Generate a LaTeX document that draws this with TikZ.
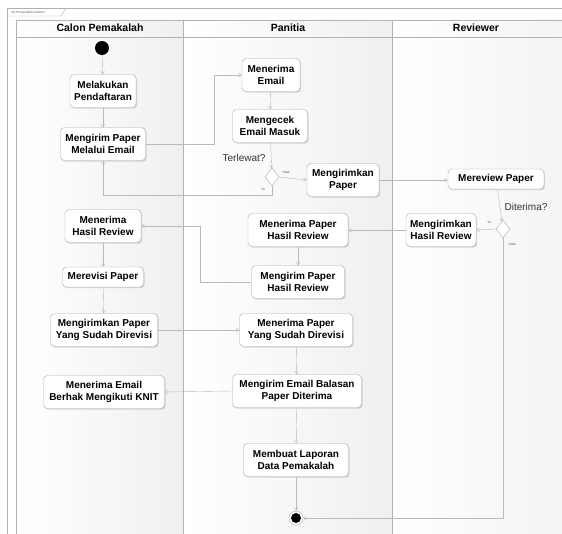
\documentclass[tikz,border=0pt]{standalone}
\usepackage{fontspec}
\setmainfont{Liberation Sans}
\usetikzlibrary{shapes.geometric, arrows.meta, shadows}

\begin{document}
\begin{tikzpicture}[x=1pt, y=-1pt,
  font=\fontsize{10}{12}\selectfont\bfseries,
  act/.style={draw=gray!65, fill=white, rounded corners=4pt, align=center,
    inner xsep=3pt, inner ysep=2pt, minimum height=33pt,
    drop shadow={shadow xshift=1.2pt, shadow yshift=-1.2pt, opacity=0.3}},
  flow/.style={draw=gray!55, -{Straight Barb[length=3pt, width=4pt]}},
  choice/.style={diamond, draw=gray!65, fill=white, minimum width=14pt,
    minimum height=18pt, inner sep=0pt},
  guard/.style={font=\fontsize{10}{12}\selectfont, text=gray!40!black},
  tiny/.style={font=\fontsize{3}{3}\selectfont, text=gray!60!black},
  lane/.style={left color=white, right color=gray!12}]

  \useasboundingbox (0,0) rectangle (562,533);
  \clip (0,0) rectangle (562,533);

  % frame and lanes
  \fill[white] (0,0) rectangle (562,533);
  \draw[gray!60] (7,8) rectangle (580,560);
  \draw[gray!60] (7,16) -- (61,16) -- (66,8);
  \node[tiny, anchor=west] at (8,12) {act Proses Bisnis Sistem};
  \shade[lane] (16,20) rectangle (183,560);
  \shade[lane] (183,20) rectangle (392,560);
  \shade[lane] (392,20) rectangle (620,560);
  \draw[gray!60] (16,20) rectangle (183,560);
  \draw[gray!60] (183,20) rectangle (392,560);
  \draw[gray!60] (392,20) rectangle (620,560);
  \draw[gray!60] (16,37) -- (620,37);
  \node[font=\fontsize{10.5}{12}\selectfont\bfseries] (L1) at (100,28) {Calon Pemakalah};
  \node[font=\fontsize{10.5}{12}\selectfont\bfseries] (L2) at (288,28) {Panitia};
  \node[font=\fontsize{10.5}{12}\selectfont\bfseries] (L3) at (476,28) {Reviewer};

  % calon pemakalah
  \node[circle, fill=black, minimum size=14pt, inner sep=0pt] (S) at (102,48) {};
  \node[act, minimum width=66pt] (A) at (103,91) {Melakukan\\Pendaftaran};
  \node[act, minimum width=85pt] (B) at (103,144) {Mengirim Paper\\Melalui Email};
  \node[act, minimum width=76pt] (M) at (103,226) {Menerima\\Hasil Review};
  \node[act, minimum width=81pt, minimum height=20pt] (N) at (103,277) {Merevisi Paper};
  \node[act, minimum width=107pt] (O) at (104,330) {Mengirimkan Paper\\Yang Sudah Direvisi};
  \node[act, minimum width=121pt] (R) at (104,392) {Menerima Email\\Berhak Mengikuti KNIT};

  % panitia
  \node[act, minimum width=58pt] (C) at (271,75) {Menerima\\Email};
  \node[act, minimum width=75pt] (D) at (270,126) {Mengecek\\Email Masuk};
  \node[choice] (X) at (272,177) {};
  \node[guard, anchor=east] (T1) at (269,158) {Terlewat?};
  \node[act, minimum width=72pt] (E) at (343,180) {Mengirimkan\\Paper};
  \node[act, minimum width=100pt] (J) at (298,230) {Menerima Paper\\Hasil Review};
  \node[act, minimum width=93pt] (K) at (298,282) {Mengirim Paper\\Hasil Review};
  \node[act, minimum width=113pt] (P) at (296,330) {Menerima Paper\\Yang Sudah Direvisi};
  \node[act, minimum width=129pt] (Q) at (297,391) {Mengirim Email Balasan\\Paper Diterima};
  \node[act, minimum width=105pt] (U) at (296,460) {Membuat Laporan\\Data Pemakalah};
  \node[circle, draw=gray!70, fill=white, minimum size=14pt, inner sep=0pt] (F) at (296,518) {};
  \fill[black] (F) circle (5);

  % reviewer
  \node[act, minimum width=96pt, minimum height=20pt] (G) at (496,179) {Mereview Paper};
  \node[choice] (Y) at (503,229) {};
  \node[guard] (T2) at (526,207) {Diterima?};
  \node[act, minimum width=70pt] (H) at (441,230) {Mengirimkan\\Hasil Review};

  \node[tiny] at (286,172) {Tidak};
  \node[tiny] at (263,189) {Ya};
  \node[tiny] at (489,222) {Ya};
  \node[tiny] at (512,244) {Tidak};

\draw[flow] (S) to (A);
\draw[flow] (A) to (B);
\draw[flow] (B.east) -- ++(68,0) |- (C.west);
\draw[flow] (C) to (D);
\draw[flow] (D) to (X);
\draw[flow] (X.east) -- (E.west);
\draw[flow] (X.south) -- ++(0,9) -| (B.south);
\draw[flow] (E.east) -- (G.west |- E.east);
\draw[flow] (G) to (Y);
\draw[flow] (Y.west) -- (H.east);
\draw[flow] (Y.south) |- (F.east);
\draw[flow] (H.west) -- (J.east);
\draw[flow] (J) to (K);
\draw[flow] (K.west) -- ++(-51,0) |- (M.east);
\draw[flow] (M) to (N);
\draw[flow] (N) to (O);
\draw[flow] (O.east) -- (P.west);
\draw[flow] (P) to (Q);
\draw[flow] (Q.west) -- (R.east);
\draw[flow] (Q) to (U);
\draw[flow] (U) to (F);
\end{tikzpicture}
\end{document}
